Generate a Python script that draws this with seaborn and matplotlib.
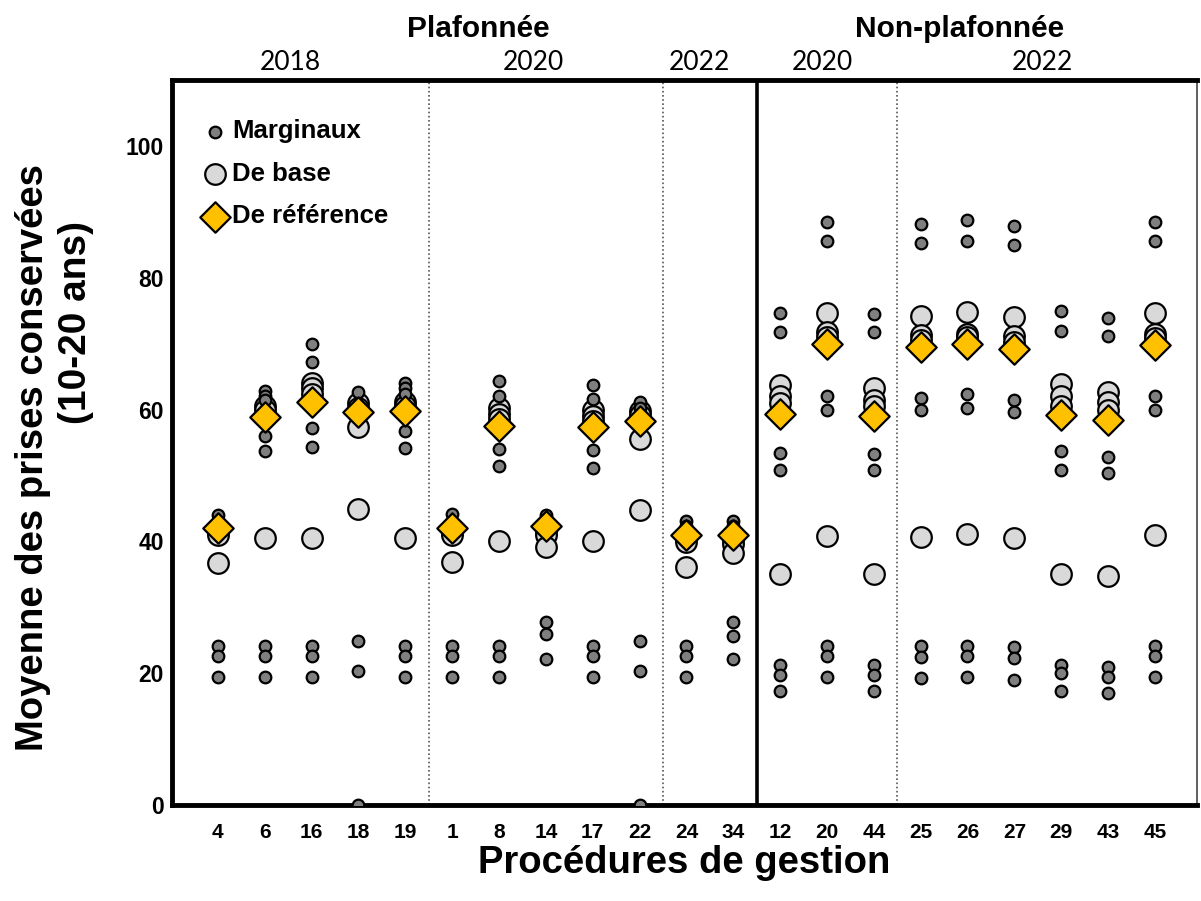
import numpy as np
import pandas as pd
import matplotlib
matplotlib.use("Agg")
import matplotlib.pyplot as plt
import seaborn as sns

# ---------------- data ----------------
categories = ["4", "6", "16", "18", "19", "1", "8", "14", "17", "22", "24", "34",
              "12", "20", "44", "25", "26", "27", "29", "43", "45"]

marginaux = {
    "4":  [44.0, 43.0, 24.2, 22.6, 19.4],
    "6":  [62.8, 62.1, 61.4, 56.0, 53.7, 24.2, 22.6, 19.5],
    "16": [69.9, 67.2, 57.2, 54.3, 24.2, 22.6, 19.5],
    "18": [62.6, 24.9, 20.4, 0.0],
    "19": [64.0, 63.3, 62.4, 56.7, 54.2, 24.2, 22.6, 19.5],
    "1":  [44.1, 43.0, 24.2, 22.6, 19.5],
    "8":  [64.3, 62.1, 54.0, 51.4, 24.2, 22.6, 19.5],
    "14": [44.0, 43.2, 27.8, 25.9, 22.2],
    "17": [63.8, 61.6, 53.9, 51.2, 24.2, 22.6, 19.5],
    "22": [61.1, 60.3, 24.9, 20.4, 0.0],
    "24": [43.1, 42.3, 24.2, 22.6, 19.5],
    "34": [43.1, 42.3, 27.8, 25.7, 22.2],
    "12": [74.7, 71.8, 53.4, 50.8, 21.2, 19.8, 17.3],
    "20": [88.5, 85.5, 62.1, 60.0, 24.2, 22.6, 19.5],
    "44": [74.5, 71.8, 53.3, 50.8, 21.2, 19.8, 17.3],
    "25": [88.2, 85.3, 61.8, 59.9, 24.2, 22.5, 19.2],
    "26": [88.8, 85.6, 62.4, 60.2, 24.2, 22.6, 19.5],
    "27": [87.8, 84.9, 61.4, 59.6, 24.0, 22.3, 19.0],
    "29": [74.9, 71.9, 53.7, 50.8, 21.2, 20.0, 17.3],
    "43": [73.9, 71.2, 52.8, 50.4, 21.0, 19.5, 17.0],
    "45": [88.5, 85.5, 62.1, 60.0, 24.2, 22.6, 19.5],
}

de_base = {
    "4":  [41.5, 41.0, 36.7],
    "6":  [60.5, 60.0, 40.5],
    "16": [64.0, 63.2, 62.3, 40.5],
    "18": [61.0, 60.2, 57.3, 44.9],
    "19": [61.2, 60.5, 40.5],
    "1":  [41.5, 41.0, 36.9],
    "8":  [60.2, 59.4, 58.5, 40.0],
    "14": [41.5, 41.0, 39.2],
    "17": [59.9, 59.1, 58.3, 40.0],
    "22": [59.8, 59.2, 55.6, 44.7],
    "24": [40.5, 39.9, 36.1],
    "34": [40.2, 39.6, 38.3],
    "12": [63.7, 62.1, 61.0, 35.1],
    "20": [74.6, 71.8, 71.0, 40.8],
    "44": [63.2, 61.4, 60.5, 35.1],
    "25": [74.2, 71.3, 70.5, 40.7],
    "26": [74.8, 71.5, 71.0, 41.1],
    "27": [74.0, 71.2, 70.3, 40.5],
    "29": [63.9, 62.1, 60.6, 35.1],
    "43": [62.7, 61.1, 59.9, 34.8],
    "45": [74.6, 71.5, 70.8, 40.9],
}

de_reference = [42.1, 58.9, 61.2, 59.6, 59.8, 42.1, 57.5, 42.3, 57.3, 58.2, 41.0, 41.0,
                59.3, 69.9, 59.0, 69.5, 70.0, 69.2, 59.2, 58.4, 69.8]

group_labels = ["Plafonnée", "Non-plafonnée"]
year_labels = ["2018", "2020", "2022", "2020", "2022"]
y_title = "Moyenne des prises conservées"
y_subtitle = "(10-20 ans)"
x_title = "Procédures de gestion"

# ---------------- frames ----------------
pos = {c: i for i, c in enumerate(categories)}
marg_df = pd.DataFrame([(pos[c], v) for c in categories for v in marginaux[c]], columns=["x", "y"])
base_df = pd.DataFrame([(pos[c], v) for c in categories for v in de_base[c]], columns=["x", "y"])
ref_df = pd.DataFrame({"x": [pos[c] for c in categories], "y": de_reference})

# ---------------- style ----------------
sns.set_theme(style="white")
plt.rcParams["font.family"] = ["Liberation Sans", "DejaVu Sans"]
plt.rcParams["text.color"] = "black"
plt.rcParams["axes.labelcolor"] = "black"
plt.rcParams["xtick.color"] = "black"
plt.rcParams["ytick.color"] = "black"

fig = plt.figure(figsize=(12.01, 9.01), dpi=100)
ax = fig.add_axes([0.1432, 0.1065, 0.8535, 0.8047])

sns.scatterplot(data=base_df, x="x", y="y", ax=ax, s=220, color="#d9d9d9",
                edgecolor="black", linewidth=1.6, label="De base", zorder=3)
sns.scatterplot(data=marg_df, x="x", y="y", ax=ax, s=70, color="#7f7f7f",
                edgecolor="black", linewidth=1.6, label="Marginaux", zorder=4)
sns.scatterplot(data=ref_df, x="x", y="y", ax=ax, s=240, marker="D", color="#ffc000",
                edgecolor="black", linewidth=1.6, label="De référence", zorder=5)

ax.set_xlim(-0.98, 20.9)
ax.set_ylim(0, 110)

# separators
for xv in [4.5, 9.5, 14.5]:
    ax.axvline(xv, color="#555555", linestyle=(0, (1, 1.5)), linewidth=1.2, zorder=1)
ax.axvline(11.5, color="black", linewidth=2.6, zorder=1)

# spines
for side in ["left", "bottom", "top"]:
    ax.spines[side].set_linewidth(3.5)
    ax.spines[side].set_color("black")
ax.spines["right"].set_linewidth(1.2)
ax.spines["right"].set_color("#444444")

ax.set_xticks(range(len(categories)))
ax.set_xticklabels(categories, fontsize=15, fontweight="bold")
ax.set_yticks([0, 20, 40, 60, 80, 100])
ax.set_yticklabels(["0", "20", "40", "60", "80", "100"], fontsize=16.5, fontweight="bold")
ax.tick_params(axis="x", direction="out", length=7, width=3.5, color="black", pad=6)
ax.tick_params(axis="y", direction="out", length=0, width=0, pad=6)

ax.set_xlabel(x_title, fontsize=27.5, fontweight="bold", labelpad=2)
ax.set_ylabel(y_title, fontsize=27.5, fontweight="bold")
ax.yaxis.set_label_coords(-0.118, 0.48)
fig.text(76 / 1201, 1 - 322 / 901, y_subtitle, rotation=90, ha="center", va="center",
         fontsize=28, fontweight="bold")

# top labels
trans = ax.get_xaxis_transform()
ax.text(5.55, 1.071, group_labels[0], transform=trans, ha="center", va="center",
        fontsize=21.5, fontweight="bold")
ax.text(15.84, 1.071, group_labels[1], transform=trans, ha="center", va="center",
        fontsize=21.5, fontweight="bold")
for xv, lab in zip([1.54, 6.74, 10.27, 12.9, 17.6], year_labels):
    ax.text(xv, 1.024, lab, transform=trans, ha="center", va="center",
            fontsize=19, family=["Lato", "DejaVu Sans"])

# legend
handles, labels = ax.get_legend_handles_labels()
order = [labels.index("Marginaux"), labels.index("De base"), labels.index("De référence")]
leg = ax.legend([handles[i] for i in order], [labels[i] for i in order],
                loc="upper left", bbox_to_anchor=(0.0147, 0.967), frameon=False,
                handlelength=1.0, handletextpad=0.16, labelspacing=0.72, borderaxespad=0.2,
                prop={"weight": "bold", "size": 18.5})

fig.savefig("out.png", dpi=100)
